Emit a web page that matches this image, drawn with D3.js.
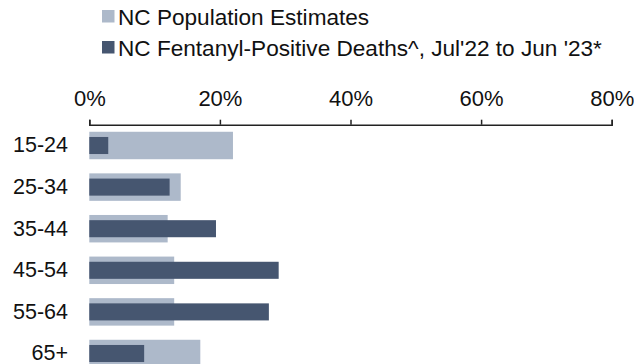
<!DOCTYPE html>
<meta charset="utf-8">
<style>
body { margin: 0; background: #fff; }
text { font-family: "Liberation Sans", Arial, sans-serif; fill: #111; }
.axis path, .axis line { stroke: #222; stroke-width: 1.5px; }
.axis text { font-size: 22px; }
.cat { font-size: 21.5px; }
.legend text { font-size: 22.6px; }
</style>
<body>
<script src="https://cdn.jsdelivr.net/npm/d3@7"></script>
<script>

var ageGroups = ["15-24", "25-34", "35-44", "45-54", "55-64", "65+"];
var popEstimates = [22, 14, 12, 13, 13, 17];
var fentanylDeaths = [2.9, 12.3, 19.4, 29.0, 27.5, 8.4];
var tickValues = [0, 20, 40, 60, 80];
var seriesNames = ["NC Population Estimates", "NC Fentanyl-Positive Deaths^, Jul'22 to Jun '23*"];
var seriesColors = ["#adb9ca", "#465670"];

var width = 634,
    height = 364;

var svg = d3.select("body").append("svg")
    .attr("width", width)
    .attr("height", height);

var x = d3.scaleLinear()
    .domain([0, 80])
    .range([89.3, 611.7]);

var y = d3.scaleBand()
    .domain(ageGroups)
    .range([124.7, 124.7 + 41.6 * ageGroups.length])
    .padding(0);

var step = y.bandwidth();

// population bars (wide, behind)
svg.append("g")
  .selectAll("rect")
    .data(popEstimates)
  .enter().append("rect")
    .attr("x", x(0))
    .attr("y", function(d, i) { return y(ageGroups[i]) + step / 2 - step * 0.33; })
    .attr("width", function(d) { return x(d) - x(0); })
    .attr("height", step * 0.66)
    .attr("fill", seriesColors[0]);

// fentanyl deaths bars (narrow, in front)
svg.append("g")
  .selectAll("rect")
    .data(fentanylDeaths)
  .enter().append("rect")
    .attr("x", x(0))
    .attr("y", function(d, i) { return y(ageGroups[i]) + step / 2 - step * 0.205; })
    .attr("width", function(d) { return x(d) - x(0); })
    .attr("height", step * 0.41)
    .attr("fill", seriesColors[1]);

// category labels
svg.append("g")
  .selectAll("text")
    .data(ageGroups)
  .enter().append("text")
    .attr("class", "cat")
    .attr("x", 68)
    .attr("y", function(d) { return y(d) + step / 2; })
    .attr("dy", "0.32em")
    .attr("text-anchor", "end")
    .text(function(d) { return d; });

// top axis
svg.append("g")
    .attr("class", "axis")
    .attr("transform", "translate(0," + y.range()[0] + ")")
    .call(d3.axisTop(x)
      .tickValues(tickValues)
      .tickSize(5)
      .tickPadding(14)
      .tickFormat(function(d) { return d + "%"; }))
    .call(function(g) { g.selectAll("text").attr("fill", "#111"); });

// legend
var legend = svg.append("g")
    .attr("class", "legend");

var rows = legend.selectAll("g")
    .data(seriesNames)
  .enter().append("g")
    .attr("transform", function(d, i) { return "translate(102," + (10 + i * 31) + ")"; });

rows.append("rect")
    .attr("width", 12.5)
    .attr("height", 12.5)
    .attr("fill", function(d, i) { return seriesColors[i]; });

rows.append("text")
    .attr("x", 16)
    .attr("y", 14.5)
    .text(function(d) { return d; });

</script>
